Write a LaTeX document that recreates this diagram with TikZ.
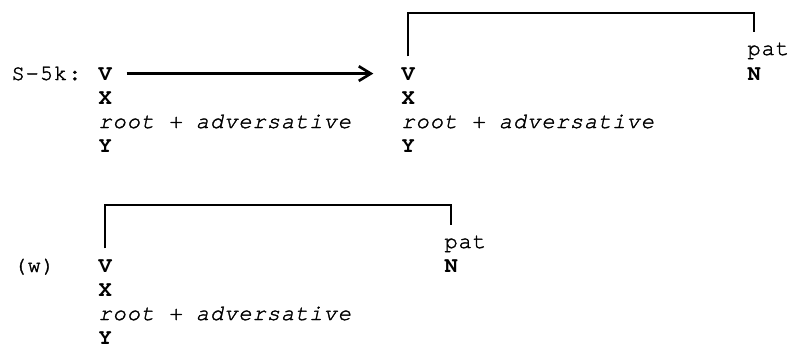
\documentclass[tikz,border=0pt]{standalone}
\usepackage{fontspec}
\usetikzlibrary{arrows.meta}
\newfontfamily\typewr{texgyrecursor-regular.otf}[BoldFont=texgyrecursor-bold.otf, ItalicFont=texgyrecursor-italic.otf, UprightFeatures={FakeBold=1.6}, ItalicFeatures={FakeBold=1.6}, LetterSpace=4.5]

\tikzset{every picture/.style={line width=0.75pt}}
\tikzset{
  tw/.style={anchor=base west, inner sep=0.75pt, font=\typewr\fontsize{16.5}{18}\selectfont},
  twb/.style={tw, font=\typewr\fontsize{16.5}{18}\selectfont\bfseries},
  twi/.style={tw, font=\typewr\fontsize{16.5}{18}\selectfont\itshape},
  brack/.style={line width=1.3, shorten <=7pt, shorten >=7pt},
}

\begin{document}
\begin{tikzpicture}[x=0.75pt,y=0.75pt,yscale=-1,xscale=1]
\useasboundingbox (0,0) rectangle (791,344);

% Text Node
\node [tw] (rule) at (10,80) {S-5k:};
% Text Node
\node [twb] (vone) at (97,80) {V};
\node [twb] (xone) at (97,104) {X};
\node [twi] (rootone) at (97,128) {root + adversative};
\node [twb] (yone) at (97,152) {Y};
% Text Node
\node [twb] (vtwo) at (400,80) {V};
\node [twb] (xtwo) at (400,104) {X};
\node [twi] (roottwo) at (400,128) {root + adversative};
\node [twb] (ytwo) at (400,152) {Y};
% Text Node
\node [tw] (patone) at (746,55) {pat};
\node [twb] (none) at (746,80) {N};

% Text Node
\node [tw] (w) at (12,272) {(w)};
% Text Node
\node [twb] (vthree) at (97,272) {V};
\node [twb] (xthree) at (97,296) {X};
\node [twi] (rootthree) at (97,320) {root + adversative};
\node [twb] (ythree) at (97,344) {Y};
% Text Node
\node [tw] (pattwo) at (443,248) {pat};
\node [twb] (ntwo) at (443,272) {N};

\coordinate (brone) at (580,13);
\coordinate (brtwo) at (280,205);

%Straight Lines
\draw [line width=2, shorten <=10pt, shorten >=20pt, -{Straight Barb[length=9pt,width=11pt]}] (vone.east) -- (vtwo.west);
%Straight Lines
\draw [brack] (vtwo.north) -- (vtwo.north |- brone) -| (patone.north -| none.north);
%Straight Lines
\draw [brack] (vthree.north) -- (vthree.north |- brtwo) -| (pattwo.north -| ntwo.north);
\end{tikzpicture}
\end{document}
